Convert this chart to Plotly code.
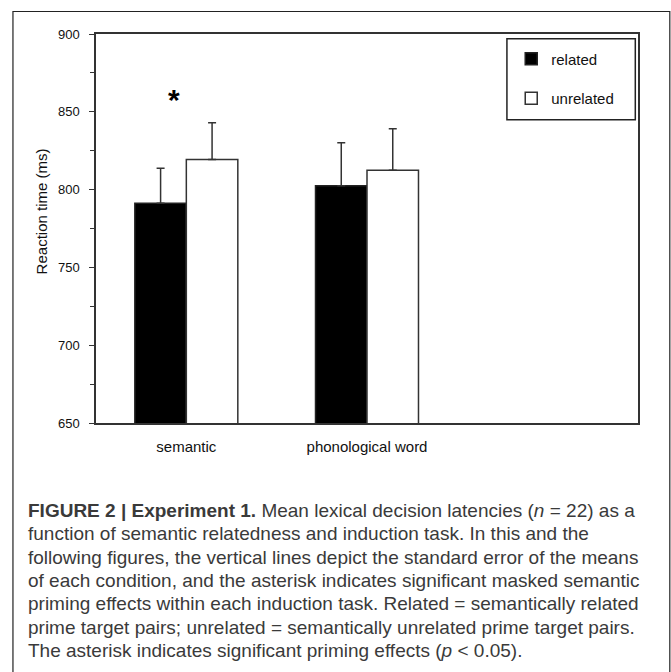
import plotly.graph_objects as go

categories = ["semantic", "phonological word"]
related_rt = [791.3, 802.5]
related_se = [22.5, 27.6]
unrelated_rt = [819.4, 812.5]
unrelated_se = [23.6, 26.6]
series_names = ["related", "unrelated"]
y_ticks = [650, 700, 750, 800, 850, 900]
y_title = "Reaction time (ms)"

caption_lines = [
    "<b>FIGURE 2 | Experiment 1.</b> Mean lexical decision latencies (<i>n</i> = 22) as a",
    "function of semantic relatedness and induction task. In this and the",
    "following figures, the vertical lines depict the standard error of the means",
    "of each condition, and the asterisk indicates significant masked semantic",
    "priming effects within each induction task. Related = semantically related",
    "prime target pairs; unrelated = semantically unrelated prime target pairs.",
    "The asterisk indicates significant priming effects (<i>p</i> < 0.05).",
]

W, H = 671, 672
L, R, T, B = 96, 637.7, 33.5, 422.7
pw, ph = R - L, B - T

def px_x(x):
    return (x - L) / pw

def px_y(y):
    return (B - y) / ph

fig = go.Figure()
fig.add_trace(go.Bar(
    x=categories, y=related_rt, name=series_names[0],
    marker=dict(color="#000000", line=dict(color="#222222", width=1.5)),
    error_y=dict(type="data", symmetric=False, array=related_se,
                 arrayminus=[0, 0], color="#333333", thickness=1.5, width=4),
    legendgroup="a",
))
fig.add_trace(go.Bar(
    x=categories, y=unrelated_rt, name=series_names[1],
    marker=dict(color="#ffffff", line=dict(color="#333333", width=1.5)),
    error_y=dict(type="data", symmetric=False, array=unrelated_se,
                 arrayminus=[0, 0], color="#333333", thickness=1.5, width=4),
    legendgroup="b",
))

font_family = "Liberation Sans, Arial, sans-serif"

fig.update_layout(
    width=W, height=H,
    margin=dict(l=L, r=W - R, t=T, b=H - B, pad=0),
    paper_bgcolor="#ffffff", plot_bgcolor="#ffffff",
    barmode="group", bargap=0.43, bargroupgap=0,
    font=dict(family=font_family, size=13, color="#111111"),
    showlegend=True,
    legend=dict(
        x=px_x(511), y=px_y(42), xanchor="left", yanchor="top",
        bgcolor="rgba(255,255,255,0)", borderwidth=0,
        traceorder="grouped", tracegroupgap=17,
        font=dict(family=font_family, size=15, color="#111111"),
    ),
    xaxis=dict(
        type="category", categoryorder="array", categoryarray=categories,
        range=[-0.5, 2.5], showgrid=False, zeroline=False,
        showline=True, linecolor="#333333", linewidth=1.5, mirror=True,
        ticks="", ticklabelstandoff=9,
        tickfont=dict(family=font_family, size=15, color="#111111"),
    ),
    yaxis=dict(
        range=[650, 900], tickvals=y_ticks, showgrid=False, zeroline=False,
        showline=True, linecolor="#333333", linewidth=1.5, mirror=True,
        ticks="outside", ticklen=5, tickwidth=1.2, tickcolor="#333333",
        ticklabelstandoff=7,
        minor=dict(dtick=25, ticks="outside", ticklen=4, tickwidth=1.2,
                   tickcolor="#333333", showgrid=False),
        tickfont=dict(family=font_family, size=13, color="#111111"),
    ),
)

# y-axis title (sits slightly above the plot's vertical centre, as in the original)
fig.add_annotation(x=px_x(41), y=px_y(211), xref="paper", yref="paper",
                   text=y_title, textangle=-90, showarrow=False,
                   xanchor="center", yanchor="middle",
                   font=dict(family=font_family, size=15, color="#111111"))

# legend frame
fig.add_shape(type="rect", xref="paper", yref="paper",
              x0=px_x(506.7), x1=px_x(635), y0=px_y(119.3), y1=px_y(38.3),
              line=dict(color="#222222", width=1.5), fillcolor="rgba(0,0,0,0)")

# significance asterisk above the semantic pair
fig.add_annotation(x=categories[0], y=859, xref="x", yref="y", text="<b>*</b>",
                   showarrow=False, xshift=-12, yshift=-2,
                   font=dict(family=font_family, size=30, color="#000000"))

# outer figure frame
fig.add_shape(type="rect", xref="paper", yref="paper",
              x0=px_x(13), x1=px_x(669.5), y0=px_y(690), y1=px_y(11),
              line=dict(color="#222222", width=1.2), fillcolor="rgba(0,0,0,0)",
              layer="below")

# caption
cap_y0, cap_dy = 510, 23.4
for i, line in enumerate(caption_lines):
    fig.add_annotation(x=px_x(26), y=px_y(cap_y0 + i * cap_dy), xref="paper", yref="paper",
                       xanchor="left", yanchor="middle", align="left", text=line,
                       showarrow=False,
                       font=dict(family=font_family, size=19, color="#3a3a3a"))

fig.write_html("out.html", config={"displayModeBar": False},
               post_script="document.body.style.margin='0px';")
